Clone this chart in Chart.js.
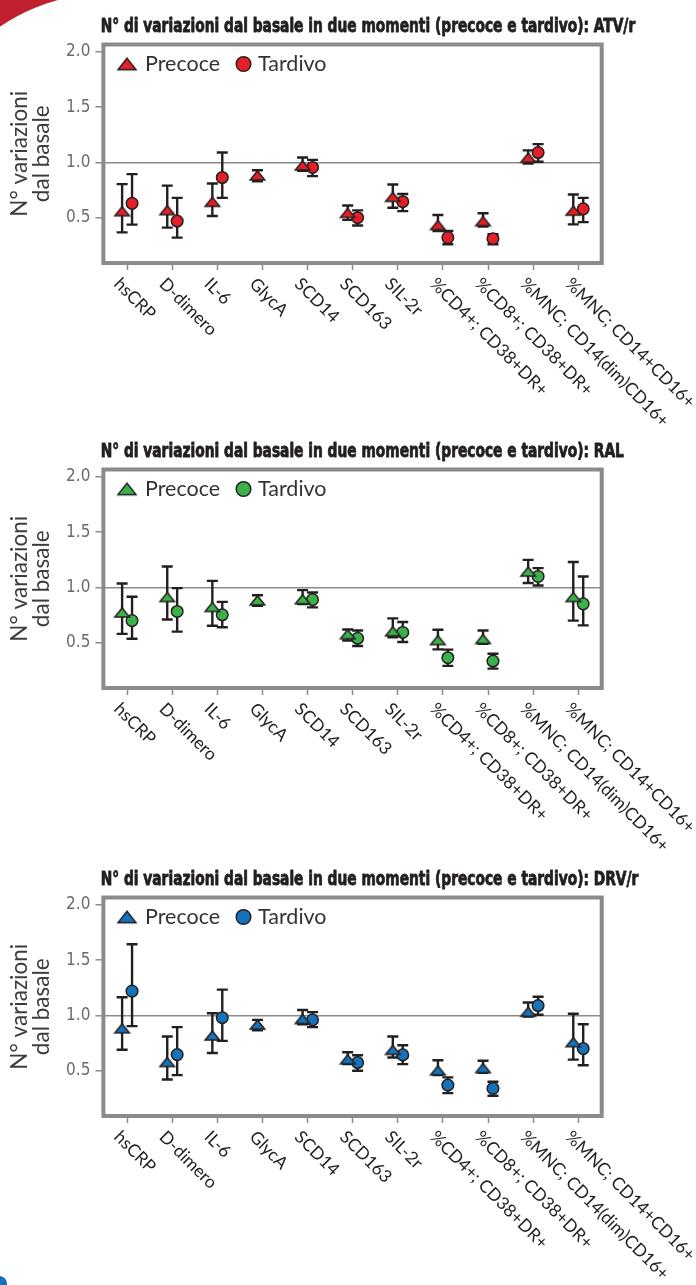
<!DOCTYPE html>
<html>
<head>
<meta charset="utf-8">
<script src="https://cdn.jsdelivr.net/npm/chart.js@4.4.1/dist/chart.umd.min.js"></script>
<style>
html,body{margin:0;padding:0;background:#fff;}
body{width:696px;height:1285px;position:relative;overflow:hidden;}
.panel{position:absolute;left:0;width:696px;height:428px;}
.panel canvas{position:absolute;left:0;top:0;}
#swoosh{position:absolute;left:0;top:0;width:70px;height:35px;overflow:hidden;background:#c1202e;}
#swoosh div{position:absolute;left:-87px;top:-7px;width:394px;height:394px;border-radius:50%;background:#fff;}
#blob{position:absolute;left:-9px;top:1276px;width:16px;height:16px;border-radius:50%;background:#1a6fb5;}
</style>
</head>
<body>
<div id="swoosh"><div></div></div>
<div id="blob"></div>
<div class="panel" style="top:0px"><canvas id="c1" width="696" height="428"></canvas></div>
<div class="panel" style="top:425px"><canvas id="c2" width="696" height="428"></canvas></div>
<div class="panel" style="top:853px"><canvas id="c3" width="696" height="428"></canvas></div>
<script>
// ---------- DATA ----------
const categories = ['hsCRP','D-dimero','IL-6','GlycA','SCD14','SCD163','SIL-2r',
  '%CD4+; CD38+DR+','%CD8+; CD38+DR+','%MNC; CD14(dim)CD16+','%MNC; CD14+CD16+'];
const yTickValues = [0.5, 1.0, 1.5, 2.0];
const seriesNames = ['Precoce', 'Tardivo'];
const panelTitles = [
  'N° di variazioni dal basale in due momenti (precoce e tardivo): ATV/r',
  'N° di variazioni dal basale in due momenti (precoce e tardivo): RAL',
  'N° di variazioni dal basale in due momenti (precoce e tardivo): DRV/r'
];
const yAxisTitle = ['N° variazioni', 'dal basale'];

// ATV/r
const atvPrecoce     = [0.545, 0.555, 0.63, 0.87, 0.96, 0.53, 0.675, 0.42, 0.455, 1.03, 0.55];
const atvPrecoceLow  = [0.367, 0.41, 0.515, 0.83, 0.925, 0.48, 0.59, 0.38, 0.42, 0.99, 0.44];
const atvPrecoceHigh = [0.804, 0.79, 0.81, 0.93, 1.045, 0.61, 0.80, 0.524, 0.54, 1.11, 0.71];
const atvTardivo     = [0.63, 0.47, 0.864, null, 0.955, 0.50, 0.645, 0.32, 0.31, 1.09, 0.58];
const atvTardivoLow  = [0.437, 0.32, 0.68, null, 0.876, 0.43, 0.56, 0.26, 0.26, 1.006, 0.46];
const atvTardivoHigh = [0.895, 0.68, 1.09, null, 1.024, 0.566, 0.714, 0.38, 0.35, 1.166, 0.68];

// RAL
const ralPrecoce     = [0.76, 0.90, 0.81, 0.87, 0.88, 0.563, 0.59, 0.51, 0.52, 1.13, 0.90];
const ralPrecoceLow  = [0.58, 0.71, 0.654, 0.834, 0.85, 0.52, 0.55, 0.44, 0.49, 1.04, 0.70];
const ralPrecoceHigh = [1.036, 1.19, 1.06, 0.93, 0.976, 0.62, 0.72, 0.617, 0.61, 1.25, 1.23];
const ralTardivo     = [0.70, 0.783, 0.753, null, 0.89, 0.54, 0.593, 0.364, 0.334, 1.10, 0.852];
const ralTardivoLow  = [0.536, 0.60, 0.64, null, 0.82, 0.47, 0.506, 0.29, 0.265, 1.018, 0.657];
const ralTardivoHigh = [0.916, 0.994, 0.87, null, 0.955, 0.61, 0.687, 0.437, 0.40, 1.175, 1.10];

// DRV/r
const drvPrecoce     = [0.87, 0.565, 0.805, 0.904, 0.955, 0.59, 0.675, 0.49, 0.51, 1.02, 0.745];
const drvPrecoceLow  = [0.69, 0.42, 0.66, 0.865, 0.92, 0.56, 0.62, 0.46, 0.48, 0.99, 0.60];
const drvPrecoceHigh = [1.165, 0.81, 1.02, 0.96, 1.05, 0.667, 0.81, 0.595, 0.59, 1.117, 1.015];
const drvTardivo     = [1.22, 0.646, 0.98, null, 0.96, 0.574, 0.643, 0.37, 0.34, 1.09, 0.70];
const drvTardivoLow  = [0.904, 0.46, 0.77, null, 0.895, 0.50, 0.56, 0.297, 0.273, 1.006, 0.55];
const drvTardivoHigh = [1.645, 0.895, 1.234, null, 1.03, 0.64, 0.73, 0.44, 0.40, 1.17, 0.92];

// ---------- STYLE ----------
const INK = '#231f20';
const FRAME = '#8b8b8d';
const OFF = 0.11;
const NARROW = '"Liberation Sans Narrow","DejaVu Sans Condensed","Arial Narrow",sans-serif';

function triangleImage(w, h, fill, lw) {
  const pad = lw + 0.5;
  const cy = pad + 2 * h / 3;
  const c = document.createElement('canvas');
  c.width = Math.ceil(w + 2 * pad);
  c.height = Math.ceil(2 * cy);
  const g = c.getContext('2d');
  const cx = c.width / 2;
  g.beginPath();
  g.moveTo(cx, pad);
  g.lineTo(cx + w / 2, pad + h);
  g.lineTo(cx - w / 2, pad + h);
  g.closePath();
  g.fillStyle = fill; g.fill();
  g.lineWidth = lw; g.strokeStyle = INK; g.lineJoin = 'miter'; g.stroke();
  return c;
}

let titleScale = null;

const panelPlugin = {
  id: 'panelDecor',
  beforeDatasetsDraw(chart, args, opts) {
    const {ctx, scales: {x, y}} = chart;
    ctx.save();
    ctx.strokeStyle = INK; ctx.lineWidth = 2.4; ctx.lineCap = 'butt';
    chart.data.datasets.forEach(ds => {
      ds.values.forEach((v, i) => {
        if (v == null) return;
        const px = x.getPixelForValue(i + ds.xOff);
        const yl = y.getPixelForValue(ds.errLow[i]);
        const yh = y.getPixelForValue(ds.errHigh[i]);
        const cap = 5.5;
        ctx.beginPath();
        ctx.moveTo(px, yl); ctx.lineTo(px, yh);
        ctx.moveTo(px - cap, yl); ctx.lineTo(px + cap, yl);
        ctx.moveTo(px - cap, yh); ctx.lineTo(px + cap, yh);
        ctx.stroke();
      });
    });
    ctx.restore();
  },
  afterDraw(chart, args, opts) {
    const {ctx, chartArea: a, scales: {x}} = chart;
    ctx.save();
    // frame
    ctx.strokeStyle = FRAME; ctx.lineWidth = 4;
    ctx.strokeRect(a.left, a.top, a.right - a.left, a.bottom - a.top);
    // title
    ctx.font = 'bold 19px ' + NARROW;
    ctx.fillStyle = INK; ctx.strokeStyle = INK; ctx.lineWidth = 0.8; ctx.lineJoin = 'round';
    ctx.textAlign = 'left'; ctx.textBaseline = 'alphabetic';
    if (titleScale === null) titleScale = 534.5 / ctx.measureText(panelTitles[0]).width;
    ctx.save();
    ctx.translate(100.7, 32);
    ctx.scale(titleScale, 1);
    ctx.fillText(opts.title, 0, 0);
    ctx.strokeText(opts.title, 0, 0);
    ctx.restore();
    // legend
    const tri = opts.legendTri;
    ctx.drawImage(tri, 127 - tri.width / 2, 66.2 - tri.height / 2);
    ctx.beginPath(); ctx.arc(243.5, 64, 7.3, 0, Math.PI * 2);
    ctx.fillStyle = opts.fill; ctx.fill();
    ctx.lineWidth = 1.5; ctx.strokeStyle = INK; ctx.stroke();
    ctx.font = '21.5px Lato';
    ctx.fillStyle = '#333333';
    ctx.fillText(seriesNames[0], 145, 71);
    ctx.fillText(seriesNames[1], 258, 71);
    // x labels
    ctx.font = '17.5px Lato';
    ctx.fillStyle = INK; ctx.textBaseline = 'middle';
    categories.forEach((lab, i) => {
      const px = x.getPixelForValue(i);
      ctx.save();
      ctx.translate(px - 10, a.bottom + 18);
      ctx.rotate(Math.PI / 4);
      ctx.fillText(lab, 0, 0);
      ctx.restore();
    });
    ctx.restore();
  }
};

function pts(values, off) {
  const out = [];
  values.forEach((v, i) => { if (v != null) out.push({x: i + off, y: v}); });
  return out;
}

function makePanel(id, title, fill, pre, preLo, preHi, tar, tarLo, tarHi) {
  const triImg = triangleImage(14.5, 9, fill, 1.5);
  const legendTri = triangleImage(18, 11.4, fill, 1.5);
  new Chart(document.getElementById(id), {
    type: 'scatter',
    data: {
      datasets: [
        {label: seriesNames[0], data: pts(pre, -OFF), values: pre, errLow: preLo, errHigh: preHi, xOff: -OFF,
         pointStyle: triImg, pointRadius: 8, backgroundColor: fill, borderColor: INK, showLine: false},
        {label: seriesNames[1], data: pts(tar, OFF), values: tar, errLow: tarLo, errHigh: tarHi, xOff: OFF,
         pointStyle: 'circle', pointRadius: 5.8, borderWidth: 1.5, backgroundColor: fill, borderColor: INK, showLine: false}
      ]
    },
    options: {
      responsive: false,
      animation: false,
      devicePixelRatio: 1,
      events: [],
      layout: {padding: {top: 44.5, right: 94.3, bottom: 0, left: 0}},
      plugins: {
        legend: {display: false},
        tooltip: {enabled: false},
        title: {display: false},
        panelDecor: {title: title, fill: fill, legendTri: legendTri}
      },
      scales: {
        x: {
          type: 'linear', min: -0.525, max: 10.52,
          afterBuildTicks: s => { s.ticks = categories.map((c, i) => ({value: i})); },
          afterFit: s => { s.height = 165; },
          ticks: {display: false},
          border: {display: false},
          grid: {drawOnChartArea: false, drawTicks: true, tickLength: 7, tickColor: FRAME, tickWidth: 1.5}
        },
        y: {
          min: 0.09, max: 2.068,
          afterBuildTicks: s => { s.ticks = yTickValues.map(v => ({value: v})); },
          afterFit: s => { s.width = 103.4; },
          border: {display: false},
          grid: {
            drawOnChartArea: true, drawTicks: true, tickLength: 8, tickWidth: 1.5, tickColor: FRAME,
            lineWidth: 1.6,
            color: c => (c.tick && c.tick.value === 1) ? FRAME : 'rgba(0,0,0,0)'
          },
          ticks: {
            padding: 5, color: '#6b6b6b',
            font: {family: NARROW, size: 17},
            callback: v => Number(v).toFixed(1)
          },
          title: {
            display: true, text: yAxisTitle, color: '#3c3c3c',
            font: {family: 'Lato', size: 22.5, lineHeight: 0.97},
            padding: {top: 9, bottom: 0}
          }
        }
      }
    },
    plugins: [panelPlugin]
  });
}

makePanel('c1', panelTitles[0], '#e41f26', atvPrecoce, atvPrecoceLow, atvPrecoceHigh, atvTardivo, atvTardivoLow, atvTardivoHigh);
makePanel('c2', panelTitles[1], '#3cb14a', ralPrecoce, ralPrecoceLow, ralPrecoceHigh, ralTardivo, ralTardivoLow, ralTardivoHigh);
makePanel('c3', panelTitles[2], '#1672b9', drvPrecoce, drvPrecoceLow, drvPrecoceHigh, drvTardivo, drvTardivoLow, drvTardivoHigh);
</script>
</body>
</html>
